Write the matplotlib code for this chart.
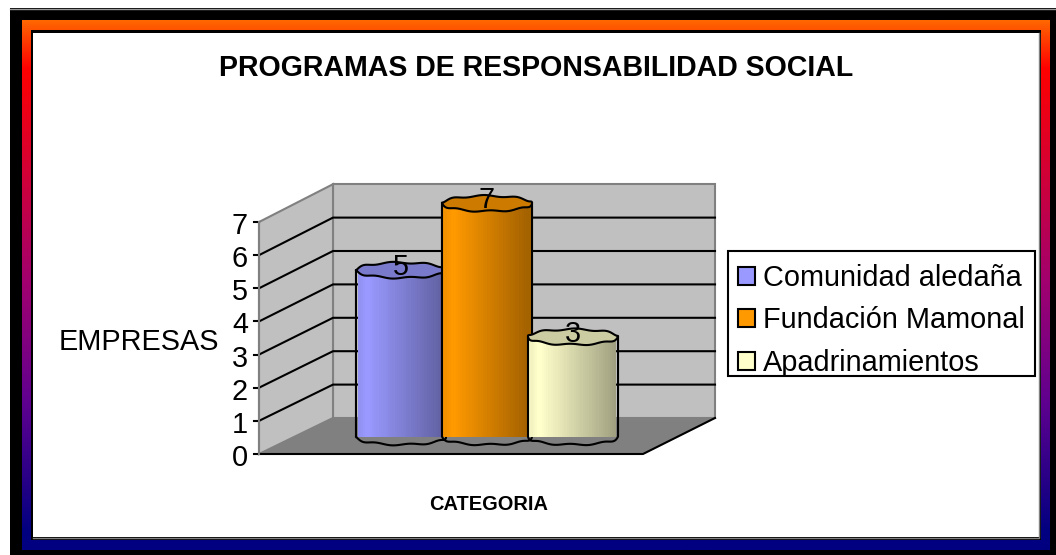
import matplotlib
matplotlib.use("Agg")
import matplotlib.pyplot as plt
import numpy as np
from matplotlib.colors import LinearSegmentedColormap, to_rgb
from matplotlib.patches import Patch, Polygon, Rectangle

categories = ["Comunidad aledaña", "Fundación Mamonal", "Apadrinamientos"]
values = [5, 7, 3]
colors = ["#9999FF", "#FF9900", "#FFFFCC"]
y_ticks = [0, 1, 2, 3, 4, 5, 6, 7]

title = "PROGRAMAS DE RESPONSABILIDAD SOCIAL"
x_label = "CATEGORIA"
y_label = "EMPRESAS"

W, H = 1056, 555
plt.rcParams["font.family"] = ["Liberation Sans", "DejaVu Sans"]

fig = plt.figure(figsize=(W / 100, H / 100), dpi=100, facecolor="white")

# background axes in pixel units, for frame and 3d walls
bg = fig.add_axes([0, 0, 1, 1])
bg.axis("off")

bg.add_patch(Rectangle((10, 8), W - 10, H - 8, fc="black", ec="none", zorder=1))
bg.plot([10, W], [8.5, 8.5], color="#999999", lw=1, zorder=2)
frame_cmap = LinearSegmentedColormap.from_list(
    "frame",
    [(0, "#FF6600"), (0.09, "#FF0000"), (0.5, "#A00070"), (0.72, "#600090"), (0.97, "#000080"), (1, "#000080")],
)
bg.imshow(np.linspace(0, 1, 256).reshape(-1, 1), cmap=frame_cmap, aspect="auto",
          extent=(22, 1050, 550, 20), zorder=2)
bg.add_patch(Rectangle((31, 30), 1010, 510, fc="black", ec="none", zorder=3))
bg.add_patch(Rectangle((33, 33), 1006, 504, fc="white", ec="none", zorder=4))
bg.plot([33, 1039, 1039], [537.5, 537.5, 33], color="#808080", lw=1, zorder=4)

# 3d box corners
fx, bx, fr = 259, 333, 643
bxr = 715
f0, fstep = 454, 33.14
b0, bstep = 418, 33.4

ftop = f0 - fstep * y_ticks[-1]
btop = b0 - bstep * y_ticks[-1]

bg.add_patch(Polygon([(bx, btop), (bxr, btop), (bxr, b0), (bx, b0)], fc="#C0C0C0", ec="#808080", lw=1.5, zorder=5))
bg.add_patch(Polygon([(fx, ftop), (bx, btop), (bx, b0), (fx, f0)], fc="#C0C0C0", ec="#808080", lw=1.5, zorder=5))
bg.add_patch(Polygon([(fx, f0), (bx, b0), (bxr, b0), (fr, f0)], fc="#808080", ec="none", zorder=5))
bg.plot([fx, fr, bxr], [f0, f0, b0], color="black", lw=1.5, zorder=6)

for t in y_ticks:
    fy = f0 - fstep * t
    by = b0 - bstep * t
    if 0 < t < y_ticks[-1]:
        bg.plot([fx, bx, bxr], [fy, by, by], color="black", lw=1.5, zorder=6)
    bg.plot([fx - 5, fx], [fy, fy], color="black", lw=1.5, zorder=6)
    bg.text(248, fy + 4, str(t), ha="right", va="center", fontsize=20.8, zorder=7)
bg.plot([fx, fx], [ftop, f0], color="#808080", lw=1.5, zorder=6)

bg.text(536, 68, title, ha="center", va="center", fontsize=20.55, fontweight="bold", zorder=7)
bg.text(489, 505, x_label, ha="center", va="center", fontsize=14.4, fontweight="bold", zorder=7)
bg.text(139, 342, y_label, ha="center", va="center", fontsize=20.8, zorder=7)

# legend box is a bit taller above the text than below, so drawn by hand
bg.add_patch(Rectangle((728, 251), 307, 125, fc="white", ec="black", lw=1.5, zorder=7))

bg.set_xlim(0, W)
bg.set_ylim(H, 0)

# bars get their own axes, value 0 sits on the middle of the floor
bar_ax = fig.add_axes([358 / W, (H - 437) / H, 258 / W, 233.5 / H])
bar_ax.axis("off")
bar_ax.patch.set_visible(False)

x = np.arange(len(values))
width = 1.047
ry = 0.23
bars = bar_ax.bar(x, values, width=width, color=colors, edgecolor="none")

t = np.linspace(0, 2 * np.pi, 241)
for i, b in enumerate(bars):
    left, right = b.get_x(), b.get_x() + b.get_width()
    top = b.get_height()
    cx, rx = (left + right) / 2, (right - left) / 2
    base = np.array(to_rgb(colors[i]))
    wiggle = 0.025 * np.sin(8 * t + i)

    lower = t[120:]
    body = [(left, top)]
    body += list(zip(cx + rx * np.cos(lower), ry * np.sin(lower) + wiggle[120:]))
    body += [(right, top)]
    z = 3 + 2 * i

    steps = np.concatenate([np.linspace(0.94, 1, 5), np.linspace(1, 0.62, 35)])
    if i == 1:
        # orange one goes flat on its right side
        steps = np.clip(steps, 0.65, None)
    shade = (base * steps[:, None])[None, :, :]
    im = bar_ax.imshow(shade, aspect="auto", extent=(left, right, -ry - 0.1, top), zorder=z, interpolation="nearest")
    clip = Polygon(body, transform=bar_ax.transData, fc="none", ec="none")
    bar_ax.add_patch(clip)
    im.set_clip_path(clip)
    bar_ax.add_patch(Polygon(body, closed=True, fc="none", ec="black", lw=1.5, zorder=z, clip_on=False))

    ex = cx + rx * np.cos(t)
    ey = top + ry * np.sin(t) + wiggle
    bar_ax.add_patch(Polygon(list(zip(ex, ey)), fc=base * 0.8, ec="black", lw=1.5, zorder=z + 0.5, clip_on=False))
    bar_ax.text(cx, top + 0.1, str(values[i]), ha="center", va="center", fontsize=20.8, zorder=20)

bar_ax.set_xlim(-0.5, 2.5)
bar_ax.set_ylim(0, 7)

handles = [Patch(fc=c, ec="black", lw=1.5) for c in colors]
leg = fig.legend(handles, categories, loc="upper left", bbox_to_anchor=(738 / W, 1 - 264 / H),
                 fontsize=20.8, frameon=False, borderaxespad=0, borderpad=0,
                 handlelength=0.58, handleheight=0.58, handletextpad=0.3, labelspacing=0.5)

fig.savefig("out.png", dpi=100)
